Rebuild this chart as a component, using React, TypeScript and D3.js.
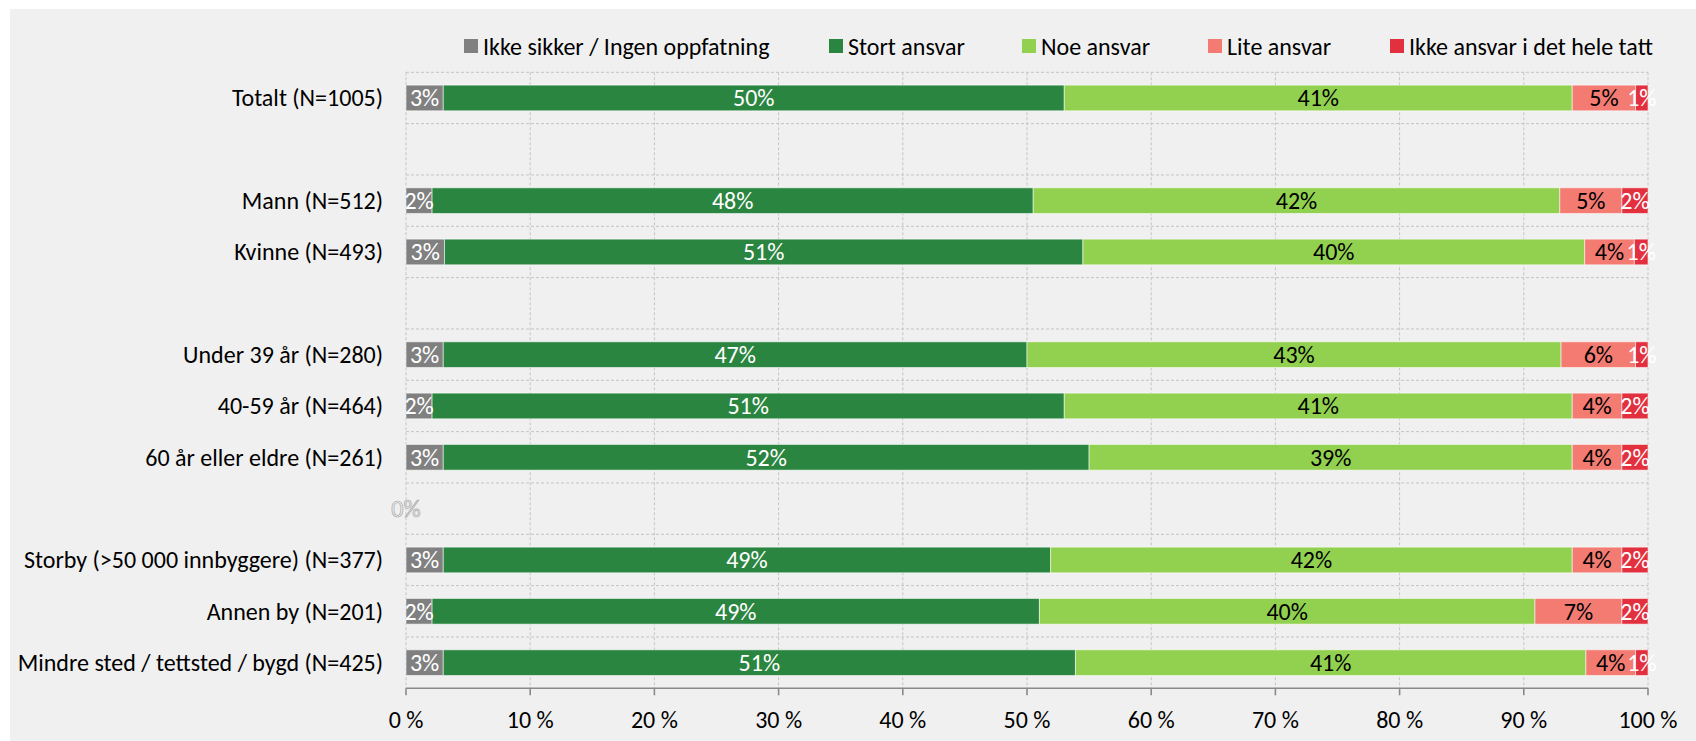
import React from "react";
import * as d3 from "d3";

const categories = [
  "Totalt (N=1005)",
  "",
  "Mann (N=512)",
  "Kvinne (N=493)",
  "",
  "Under 39 år (N=280)",
  "40-59 år (N=464)",
  "60 år eller eldre (N=261)",
  "",
  "Storby (>50 000 innbyggere) (N=377)",
  "Annen by (N=201)",
  "Mindre sted / tettsted / bygd (N=425)",
];

const seriesNames = [
  "Ikke sikker / Ingen oppfatning",
  "Stort ansvar",
  "Noe ansvar",
  "Lite ansvar",
  "Ikke ansvar i det hele tatt",
];

const ikkeSikker = [3.0, null, 2.1, 3.1, null, 3.0, 2.1, 3.0, 0, 3.0, 2.1, 3.0];
const stortAnsvar = [50.0, null, 48.4, 51.4, null, 47.0, 50.9, 52.0, null, 48.9, 48.9, 50.9];
const noeAnsvar = [40.9, null, 42.4, 40.4, null, 43.0, 40.9, 38.9, null, 42.0, 39.9, 41.1];
const liteAnsvar = [5.1, null, 5.0, 4.0, null, 6.0, 4.0, 4.0, null, 4.0, 7.0, 4.0];
const ikkeAnsvar = [1.0, null, 2.1, 1.1, null, 1.0, 2.1, 2.1, null, 2.1, 2.1, 1.0];

const seriesValues = [ikkeSikker, stortAnsvar, noeAnsvar, liteAnsvar, ikkeAnsvar];
const seriesColors = ["#808080", "#2a8540", "#92d050", "#f47b72", "#e2303f"];
const labelColors = ["#ffffff", "#ffffff", "#000000", "#000000", "#ffffff"];

const xTicks = [0, 10, 20, 30, 40, 50, 60, 70, 80, 90, 100];
const xTickLabels = ["0 %", "10 %", "20 %", "30 %", "40 %", "50 %", "60 %", "70 %", "80 %", "90 %", "100 %"];

// layout
const W = 1696;
const H = 741;
const legendX = [464, 829, 1022, 1208, 1390];
const FONT = "Carlito, Calibri, Lato, sans-serif";
const FS = 24;

export default function App() {
  const x = d3.scaleLinear().domain([0, 100]).range([406, 1648]);
  const y = d3
    .scaleBand<number>()
    .domain(categories.map((_, i) => i))
    .range([72.3, 688.3])
    .paddingInner(0.5)
    .paddingOuter(0.25);
  const step = y.step();
  const [y0, y1] = y.range();

  const stacked: { s: number; i: number; start: number; end: number; v: number }[] = [];
  categories.forEach((_, i) => {
    let acc = 0;
    seriesValues.forEach((arr, s) => {
      const v = arr[i];
      if (v === null || v === undefined) return;
      stacked.push({ s, i, start: acc, end: acc + v, v });
      acc += v;
    });
  });

  const hLines = d3.range(0, categories.length).map((k) => y0 + k * step);

  return (
    <div style={{ position: "absolute", left: 0, top: 0 }}>
      <svg width={W} height={H} style={{ display: "block", fontFamily: FONT }}>
        <defs>
          <clipPath id="plotclip">
            <rect x={x(0)} y={0} width={W - x(0)} height={H} />
          </clipPath>
        </defs>
        <rect x={0} y={0} width={W} height={H} fill="#ffffff" />
        <rect x={10} y={9} width={W - 10} height={H - 9} fill="#f0f0f0" />

        {/* gridlines */}
        {xTicks.map((t) => (
          <line
            key={"v" + t}
            x1={x(t)}
            x2={x(t)}
            y1={y0}
            y2={y1}
            stroke="#c4c4c4"
            strokeWidth={1}
            strokeDasharray="3 2"
          />
        ))}
        {hLines.map((yy, k) => (
          <line
            key={"h" + k}
            x1={x(0)}
            x2={x(100)}
            y1={yy}
            y2={yy}
            stroke="#c4c4c4"
            strokeWidth={1}
            strokeDasharray="3 2"
          />
        ))}

        {/* bars */}
        {stacked
          .filter((d) => d.v > 0)
          .map((d, k) => (
            <rect
              key={"b" + k}
              x={x(d.start)}
              y={y(d.i)}
              width={x(d.end) - x(d.start)}
              height={y.bandwidth()}
              fill={seriesColors[d.s]}
              stroke="#ffffff"
              strokeOpacity={0.55}
              strokeWidth={1}
            />
          ))}

        {/* data labels */}
        <g clipPath="url(#plotclip)">
          {stacked
            .filter((d) => d.v > 0)
            .map((d, k) => (
              <text
                key={"l" + k}
                x={(x(d.start) + x(d.end)) / 2}
                y={(y(d.i) as number) + y.bandwidth() / 2}
                textAnchor="middle"
                dominantBaseline="central"
                fontSize={FS}
                fill={labelColors[d.s]}
              >
                {Math.round(d.v) + "%"}
              </text>
            ))}
        </g>
        {stacked
          .filter((d) => d.v === 0)
          .map((d, k) => (
            <text
              key={"z" + k}
              x={x(d.start)}
              y={(y(d.i) as number) + y.bandwidth() / 2}
              textAnchor="middle"
              dominantBaseline="central"
              fontSize={FS}
              fill="#f0f0f0"
              stroke="#a6a6a6"
              strokeWidth={0.7}
            >
              {Math.round(d.v) + "%"}
            </text>
          ))}

        {/* category labels */}
        {categories.map((c, i) => (
          <text
            key={"c" + i}
            x={383}
            y={(y(i) as number) + y.bandwidth() / 2}
            textAnchor="end"
            dominantBaseline="central"
            fontSize={FS}
            fill="#000"
          >
            {c}
          </text>
        ))}

        {/* x axis */}
        <line x1={x(0)} x2={x(100)} y1={y1} y2={y1} stroke="#8a8a8a" strokeWidth={1.6} />
        {xTicks.map((t, k) => (
          <g key={"t" + t}>
            <line x1={x(t)} x2={x(t)} y1={y1} y2={y1 + 7} stroke="#8a8a8a" strokeWidth={1.6} />
            <text
              x={x(t)}
              y={719}
              textAnchor="middle"
              dominantBaseline="central"
              fontSize={FS}
              fill="#000"
            >
              {xTickLabels[k]}
            </text>
          </g>
        ))}

        {/* legend */}
        {seriesNames.map((n, s) => (
          <g key={"lg" + s}>
            <rect x={legendX[s]} y={39} width={14} height={14} fill={seriesColors[s]} />
            <text
              x={legendX[s] + 19}
              y={46}
              dominantBaseline="central"
              fontSize={FS}
              fill="#000"
            >
              {n}
            </text>
          </g>
        ))}
      </svg>
    </div>
  );
}
